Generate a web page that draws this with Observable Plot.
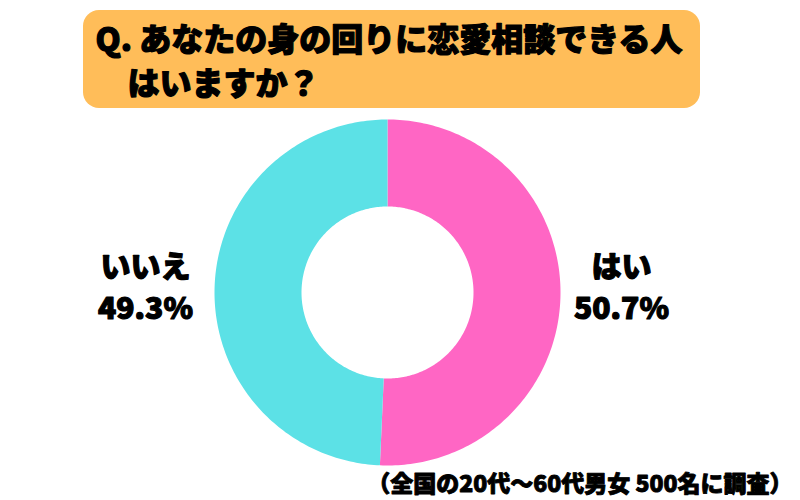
<!DOCTYPE html>
<html lang="ja">
<head>
<meta charset="utf-8">
<script src="https://cdn.jsdelivr.net/npm/d3@7"></script>
<script src="https://cdn.jsdelivr.net/npm/@observablehq/plot@0.6"></script>
<style>
  html, body { margin: 0; padding: 0; background: #ffffff; }
  #chart { width: 800px; height: 500px; }
  svg { font-family: "Noto Sans CJK JP", "Noto Sans", sans-serif; }
</style>
</head>
<body>
<div id="chart"></div>
<script>
// ---- data ----
const categories = ["はい", "いいえ"];
const values = [50.7, 49.3];
const colors = ["#FF66C4", "#5CE1E6"];
const labelNames = ["はい", "いいえ"];
const labelPercents = ["50.7%", "49.3%"];
const titleLines = ["Q. あなたの身の回りに恋愛相談できる人", "はいますか？"];
const captionText = "（全国の20代〜60代男女 500名に調査）";

// ---- geometry (layout, not data) ----
const W = 800, H = 500;
const cx = 387, cy = 292, R = 173, r = 86;

const total = d3.sum(values);
let acc = 0;
const slicePts = [];
categories.forEach((cat, i) => {
  const a0 = acc / total * 2 * Math.PI;
  acc += values[i];
  const a1 = acc / total * 2 * Math.PI;
  const n = 180;
  const outer = d3.range(n + 1).map(k => a0 + (a1 - a0) * k / n);
  outer.forEach(a => slicePts.push({cat, x: cx + R * Math.sin(a), y: cy - R * Math.cos(a)}));
  outer.slice().reverse().forEach(a => slicePts.push({cat, x: cx + r * Math.sin(a), y: cy - r * Math.cos(a)}));
  slicePts.push({cat, x: cx + R * Math.sin(a0), y: cy - R * Math.cos(a0)});
});

const labels = categories.map((cat, i) => ({
  cat, name: labelNames[i], pct: labelPercents[i],
  x: i === 0 ? cx + 234 : cx - 242
}));

const heavy = {fontWeight: 900, fill: "#000", stroke: "#000", strokeWidth: 1.2, strokeLinejoin: "round"};

const plot = Plot.plot({
  width: W, height: H,
  margin: 0,
  x: {domain: [0, W], range: [0, W], axis: null},
  y: {domain: [0, H], range: [0, H], axis: null},
  color: {domain: categories, range: colors},
  style: {fontFamily: '"Noto Sans CJK JP", "Noto Sans", sans-serif', background: "#ffffff"},
  marks: [
    Plot.rect([{}], {x1: 83, x2: 700, y1: 10, y2: 108, fill: "#FFBD59", rx: 16}),
    Plot.text([titleLines[0]], {x: 95, y: 40, text: d => d, textAnchor: "start", fontSize: 32, ...heavy}),
    Plot.text([titleLines[1]], {x: 127, y: 84, text: d => d, textAnchor: "start", fontSize: 32, ...heavy}),
    Plot.line(slicePts, {x: "x", y: "y", z: "cat", fill: "cat", stroke: "none", curve: "linear"}),
    Plot.text(labels, {x: "x", y: () => cy - 25, text: "name", fontSize: 30, ...heavy}),
    Plot.text(labels, {x: "x", y: () => cy + 17, text: "pct", fontSize: 30, ...heavy}),
    Plot.text([captionText], {x: 792, y: 484, text: d => d, textAnchor: "end", fontSize: 23, ...heavy, strokeWidth: 0.9})
  ]
});
document.getElementById("chart").appendChild(plot);
</script>
</body>
</html>
